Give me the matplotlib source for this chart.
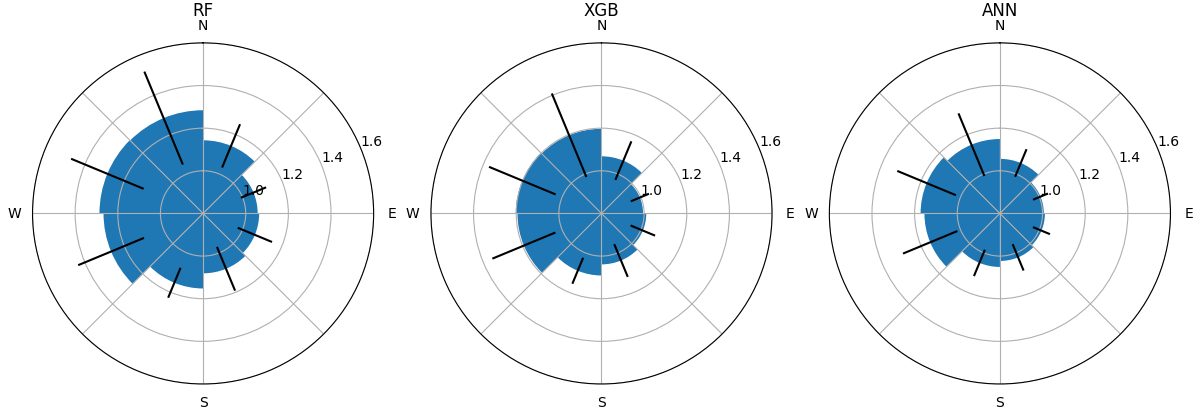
import numpy as np
import matplotlib
matplotlib.use("Agg")
from matplotlib import pyplot as plt

# sector centres in compass degrees (NNE, ENE, ESE, SSE, SSW, WSW, WNW, NNW)
sectors = [22.5, 67.5, 112.5, 157.5, 202.5, 247.5, 292.5, 337.5]
models = ["RF", "XGB", "ANN"]

rf_mean = [1.143, 1.056, 1.063, 1.081, 1.152, 1.267, 1.286, 1.284]
rf_err = [0.110, 0.064, 0.087, 0.111, 0.076, 0.167, 0.184, 0.236]

xgb_mean = [1.068, 0.995, 1.010, 1.039, 1.091, 1.194, 1.202, 1.197]
xgb_err = [0.098, 0.046, 0.062, 0.083, 0.066, 0.160, 0.169, 0.212]

ann_mean = [1.056, 1.006, 1.011, 1.023, 1.051, 1.154, 1.172, 1.149]
ann_err = [0.070, 0.038, 0.043, 0.067, 0.067, 0.138, 0.149, 0.159]

means = [rf_mean, xgb_mean, ann_mean]
errs = [rf_err, xgb_err, ann_err]

r_min, r_max = 0.8, 1.6
rticks = [1.0, 1.2, 1.4, 1.6]
compass = ["N", "", "E", "", "S", "", "W", ""]

fig, axes = plt.subplots(1, 3, figsize=(12, 4.1), subplot_kw={"projection": "polar"})
fig.subplots_adjust(left=0.0265, right=0.976, bottom=0.061, top=0.893, wspace=0.163)

theta = np.deg2rad(sectors)
for ax, name, m, e in zip(axes, models, means, errs):
    ax.set_theta_zero_location("N")
    ax.set_theta_direction(-1)
    # bars start at the inner radius so nothing wraps through the centre
    ax.bar(theta, np.array(m) - r_min, bottom=r_min, width=np.pi / 4,
           align="center", color="tab:blue")
    ax.errorbar(theta, m, yerr=e, fmt="none", ecolor="black")
    ax.set_ylim(r_min, r_max)
    ax.set_rticks(rticks)
    ax.set_rlabel_position(67.5)
    ax.set_xticks(np.deg2rad(np.arange(0, 360, 45)))
    ax.set_xticklabels(compass)
    ax.tick_params(axis="x", pad=2.5)
    ax.set_title(name, y=1.0, pad=20)

plt.savefig("out.png", dpi=100)
